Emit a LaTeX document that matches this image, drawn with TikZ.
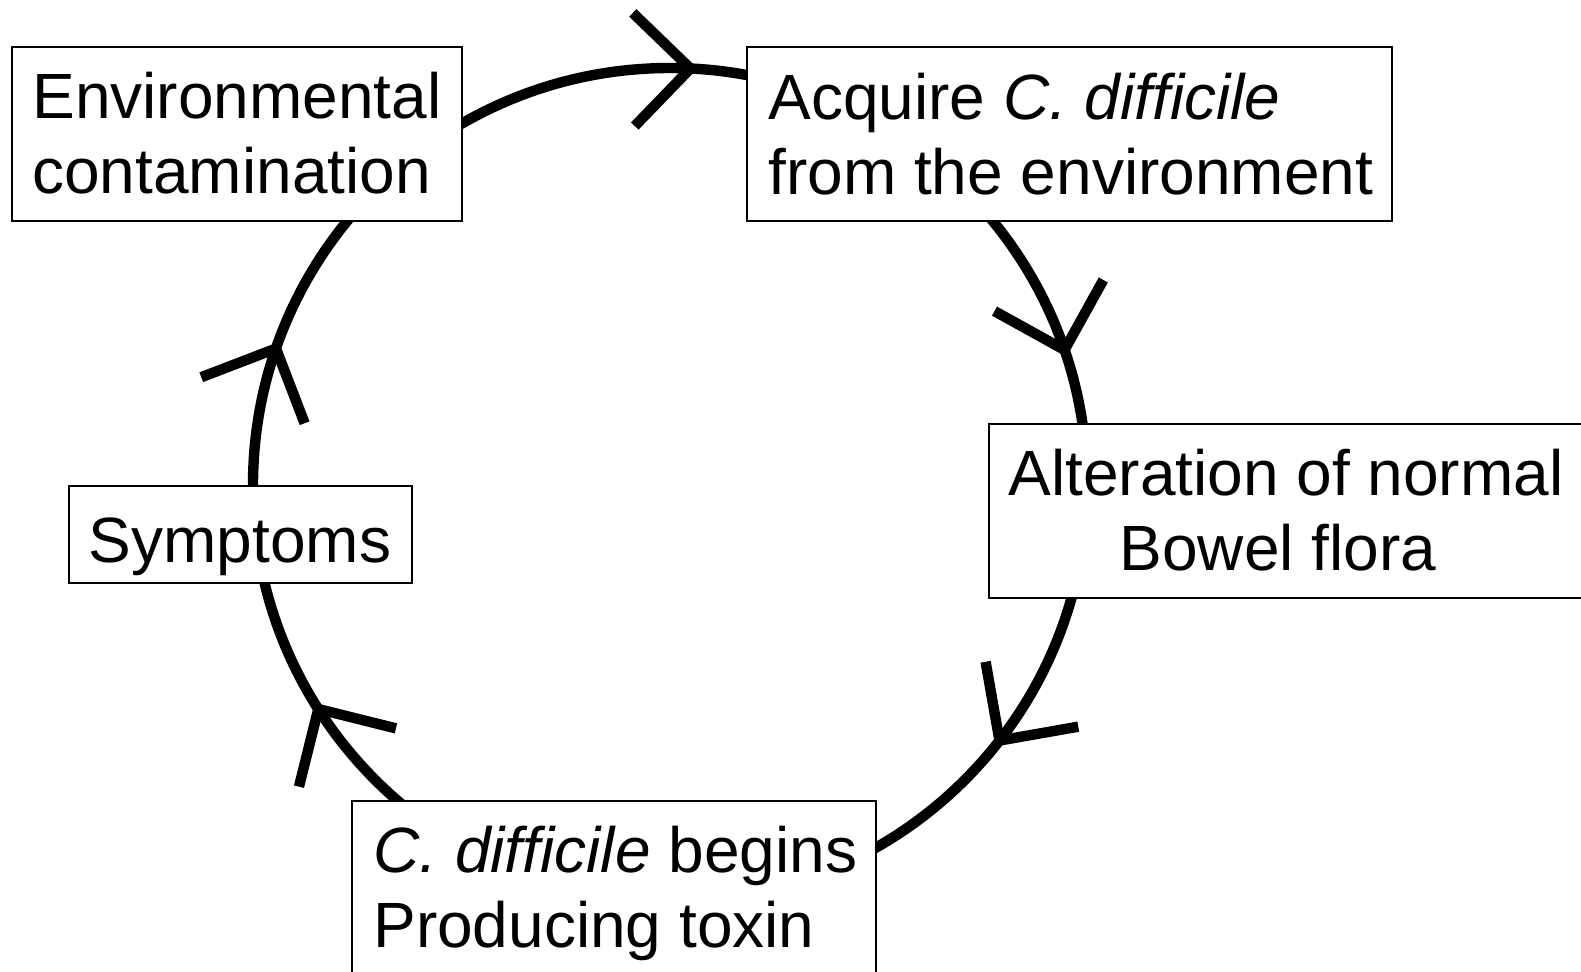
\documentclass[tikz,border=0pt]{standalone}
\usepackage{fontspec}
\setmainfont{Liberation Sans}
\usetikzlibrary{calc}
\begin{document}
\begin{tikzpicture}[x=0.5pt,y=-0.5pt,
  stage/.style={draw=black, line width=1pt, fill=white, inner sep=0pt, anchor=north west},
  lbl/.style={inner sep=0pt, font=\fontsize{32}{37.5}\selectfont},
  cycleline/.style={line width=5.2pt},
  chevron/.style={line width=5.2pt, line join=miter}]
\useasboundingbox (0,0) rectangle (1581,972);

% the cycle
\coordinate (c) at (670,485);
\draw[cycleline] (c) circle[radius=208.5pt];

% open arrowheads along the cycle (clockwise): tip angle / axis angle
\foreach \t/\a [count=\i] in {-87.2/179,-18.9/254,37.8/305,147.5/59,199.1/114}{
  \coordinate (tip\i) at ($(c)+(\t:417)$);
  \coordinate (wa\i) at ($(tip\i)+(\a+45:80)$);
  \coordinate (wb\i) at ($(tip\i)+(\a-45:80)$);
  \draw[chevron] (wa\i) -- (tip\i) -- (wb\i);
}

% stage boxes
\node[stage, minimum width=225pt,   minimum height=87pt] (envbox) at (11,46) {};
\node[stage, minimum width=322.5pt, minimum height=87pt] (acqbox) at (746,46) {};
\node[stage, minimum width=310pt,   minimum height=87pt] (altbox) at (988,423) {};
\node[stage, minimum width=262pt,   minimum height=100pt] (toxbox) at (351,800) {};
\node[stage, minimum width=171.5pt, minimum height=48.5pt] (symbox) at (68,485) {};

% stage texts (base anchor sits on the last line)
\node[lbl, anchor=base west, align=left] (envtxt) at (32,194)
  {Environmental\\contamination};
\node[lbl, anchor=base west, align=left] (acqtxt) at (768,195)
  {Acquire \textit{C. difficile}\\from the environment};
\node[lbl, anchor=base, align=center] (alttxt) at (1286,571)
  {Alteration of normal\\Bowel flora\hspace*{8pt}};
\node[lbl, anchor=base west, align=left] (toxtxt) at (373,947)
  {\textit{C. difficile} begins\\Producing toxin};
\node[lbl, anchor=base] (symtxt) at (240,563) {Symptoms};
\end{tikzpicture}
\end{document}
